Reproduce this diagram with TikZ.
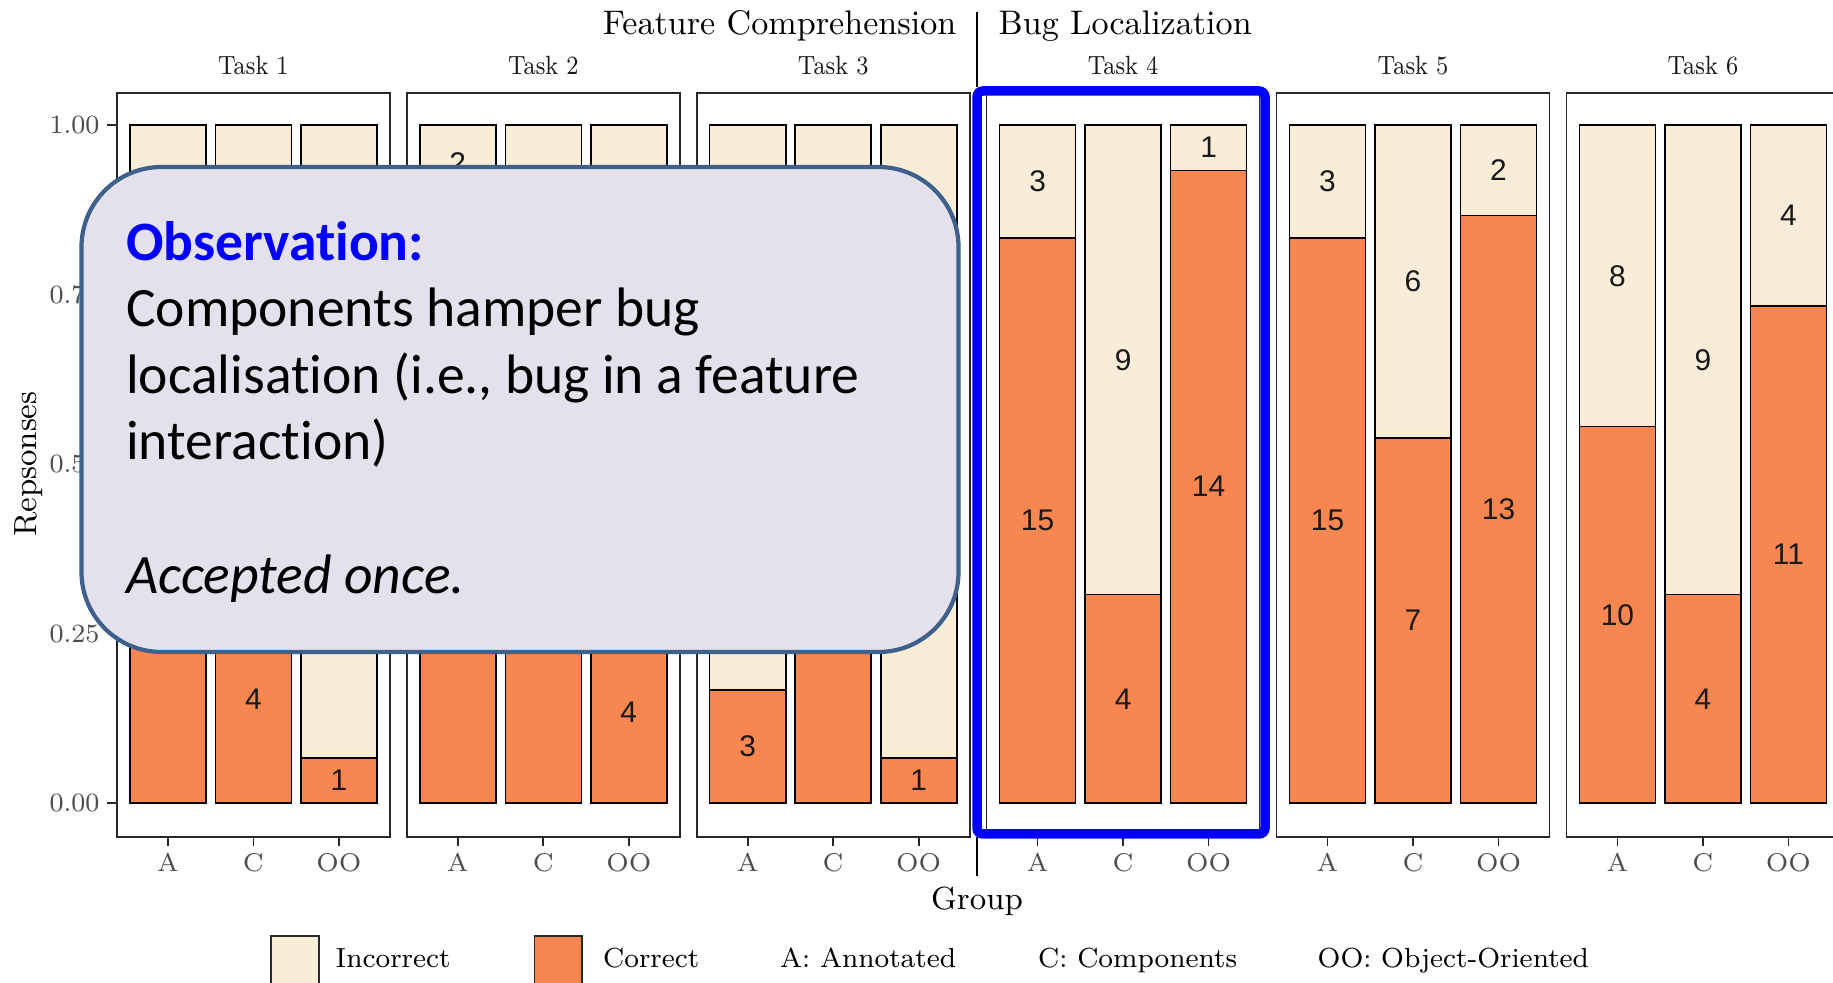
\documentclass[tikz,border=0pt]{standalone}
\usepackage{graphicx}
\usepackage{fontspec}
\newfontfamily\calibrifont[Ligatures=NoCommon]{Carlito}
\newfontfamily\helvfont{Liberation Sans}
% keep "t" and "i" as separate glyphs
\newcommand\tisep{t\kern0pt i}

\definecolor{barcorrect}{RGB}{248,134,80}
\definecolor{barwrong}{RGB}{249,237,216}
\definecolor{calloutfill}{RGB}{228,224,236}
\definecolor{calloutline}{RGB}{62,96,140}
\definecolor{ticktext}{RGB}{77,77,77}
\definecolor{frameline}{RGB}{40,40,40}
\definecolor{hilite}{RGB}{0,0,255}

% vertical extent of the stacked bars (1 unit = 0.01 cm, y grows downwards)
\def\barytop{125.1}
\def\barybot{803.1}
\def\baryspan{678}
\def\barhalf{38}

\tikzset{
  panelframe/.style={draw=frameline, line width=0.5pt, fill=white},
  segwrong/.style={draw=black, line width=0.45pt, fill=barwrong},
  segright/.style={draw=black, line width=0.45pt, fill=barcorrect},
  countlbl/.style={inner sep=0pt, text=black!90, font=\helvfont\fontsize{8.5}{10}\selectfont},
  striplbl/.style={inner sep=0pt, anchor=base, text=black!90, font=\fontsize{7.5}{9}\selectfont},
  xticklbl/.style={inner sep=0pt, anchor=base, text=ticktext, font=\fontsize{7.3}{9}\selectfont},
  yticklbl/.style={inner sep=0pt, anchor=east, text=ticktext, font=\fontsize{7.5}{9}\selectfont},
  tickmark/.style={draw=frameline, line width=0.5pt},
  grouptitle/.style={inner sep=0pt, font=\fontsize{9.7}{11}\selectfont},
  axistitle/.style={inner sep=0pt, font=\fontsize{9.1}{11}\selectfont},
  legendlbl/.style={inner sep=0pt, anchor=base west, font=\fontsize{7.85}{10}\selectfont},
  legendkey/.style={draw=frameline, line width=0.5pt},
  sepline/.style={draw=black, line width=0.5pt},
  hilitebox/.style={draw=hilite, line width=2.7pt, rounded corners=0.06cm},
  callout/.style={draw=calloutline, fill=calloutfill, line width=1.2pt, rounded corners=0.8cm},
  callouttxt/.style={inner sep=0pt, anchor=base west, font=\calibrifont\fontsize{15.8}{19}\selectfont},
}

% one stacked bar: #1 centre x, #2 share of correct answers,
% #3 incorrect count, #4 correct count (either may be empty), #5 name
\newcommand\drawstackbar[5]{%
  \pgfmathsetmacro\ysplit{\barybot-\baryspan*(#2)}%
  \draw[segwrong] (#1-\barhalf,\barytop) rectangle (#1+\barhalf,\ysplit);%
  \draw[segright] (#1-\barhalf,\ysplit) rectangle (#1+\barhalf,\barybot);%
  \if\relax\detokenize{#3}\relax\else
    \node[countlbl] (#5-wrong) at (#1,{(\barytop+\ysplit)/2}) {#3};%
  \fi
  \if\relax\detokenize{#4}\relax\else
    \node[countlbl] (#5-right) at (#1,{(\barybot+\ysplit)/2}) {#4};%
  \fi
}

\begin{document}
\begin{tikzpicture}[x=0.01cm,y=-0.01cm]
\useasboundingbox (0,0) rectangle (1833,983);
\clip (0,0) rectangle (1833,983);

% facet panels, strip titles and group ticks
\foreach \k in {0,...,5}{
  \pgfmathsetmacro\pl{116.9+289.9*\k}
  \pgfmathsetmacro\pc{\pl+136.5}
  \pgfmathtruncatemacro\tn{\k+1}
  \draw[panelframe] (\pl,92.9) rectangle (\pl+273,837.2);
  \node[striplbl] (strip\tn) at (\pc,74.5) {\scalebox{0.87}[1]{Task \tn}};
  \foreach \dx/\g in {-85.5/A,0/C,85.5/OO}{
    \draw[tickmark] (\pc+\dx,837.2) -- (\pc+\dx,846);
    \node[xticklbl] (xt\tn\g) at (\pc+\dx,872) {\g};
  }
}

% y axis ticks and labels
\foreach \v/\lbl/\i in {0/0.00/0,0.25/0.25/1,0.5/0.50/2,0.75/0.75/3,1/1.00/4}{
  \pgfmathsetmacro\yy{\barybot-\baryspan*\v}
  \draw[tickmark] (107,\yy) -- (116.9,\yy);
  \node[yticklbl] (ytick\i) at (100,\yy) {\lbl};
}

% Task 1
\drawstackbar{167.9}{0.61}{}{}{t1a}
\drawstackbar{253.4}{4/13}{}{4}{t1c}
\drawstackbar{338.9}{1/15}{}{1}{t1o}
% Task 2
\drawstackbar{457.8}{16/18}{2}{}{t2a}
\drawstackbar{543.3}{0.6}{}{}{t2c}
\drawstackbar{628.8}{4/15}{}{4}{t2o}
% Task 3
\drawstackbar{747.7}{3/18}{}{3}{t3a}
\drawstackbar{833.2}{0.7}{}{}{t3c}
\drawstackbar{918.7}{1/15}{}{1}{t3o}
% Task 4
\drawstackbar{1037.6}{15/18}{3}{15}{t4a}
\drawstackbar{1123.1}{4/13}{9}{4}{t4c}
\drawstackbar{1208.6}{14/15}{1}{14}{t4o}
% Task 5
\drawstackbar{1327.5}{15/18}{3}{15}{t5a}
\drawstackbar{1413.0}{7/13}{6}{7}{t5c}
\drawstackbar{1498.5}{13/15}{2}{13}{t5o}
% Task 6
\drawstackbar{1617.4}{10/18}{8}{10}{t6a}
\drawstackbar{1702.9}{4/13}{9}{4}{t6c}
\drawstackbar{1788.4}{11/15}{4}{11}{t6o}

% task-type headers and separators
\node[grouptitle, anchor=base east] (featcomp) at (957,35) {Feature Comprehension};
\node[grouptitle, anchor=base west] (bugloc) at (998,35) {Bug Localization};
\coordinate (septopA) at (977,12);
\coordinate (septopB) at (977,87);
\draw[sepline] (septopA) -- (septopB);
\coordinate (sepbotA) at (977,837.2);
\coordinate (sepbotB) at (977,876);
\draw[sepline] (sepbotA) -- (sepbotB);

% axis titles
\node[axistitle, anchor=base] (grouptitle) at (977,910) {Group};
\node[axistitle, rotate=90, anchor=base] (resptitle) at (36.5,464.1) {Repsonses};

% legend
\draw[legendkey, fill=barwrong] (271,936) rectangle (319,990);
\node[legendlbl] (lgwrong) at (335,968) {Incorrect};
\draw[legendkey, fill=barcorrect] (534.4,936) rectangle (582,990);
\node[legendlbl] (lgright) at (602.5,968) {Correct};
\node[legendlbl] (lga) at (779.5,968) {A: Annotated};
\node[legendlbl] (lgc) at (1037.5,968) {C: Components};
\node[legendlbl] (lgoo) at (1317,968) {OO: Object-Oriented};

% highlight around Task 4
\draw[hilitebox] (977,91) rectangle (1265,834);

% observation callout
\draw[callout] (81.5,167) rectangle (958.5,652);
\node[callouttxt, text=hilite] (obshead) at (125.5,260.5) {\bfseries Observa\tisep on:};
\node[callouttxt] (obsl1) at (125.5,327) {Components hamper bug};
\node[callouttxt] (obsl2) at (125.5,393.5) {localisa\tisep on (i.e., bug in a feature};
\node[callouttxt] (obsl3) at (125.5,460) {interac\tisep on)};
\node[callouttxt] (obsl4) at (125.5,594) {\itshape Accepted once.};
\end{tikzpicture}
\end{document}
